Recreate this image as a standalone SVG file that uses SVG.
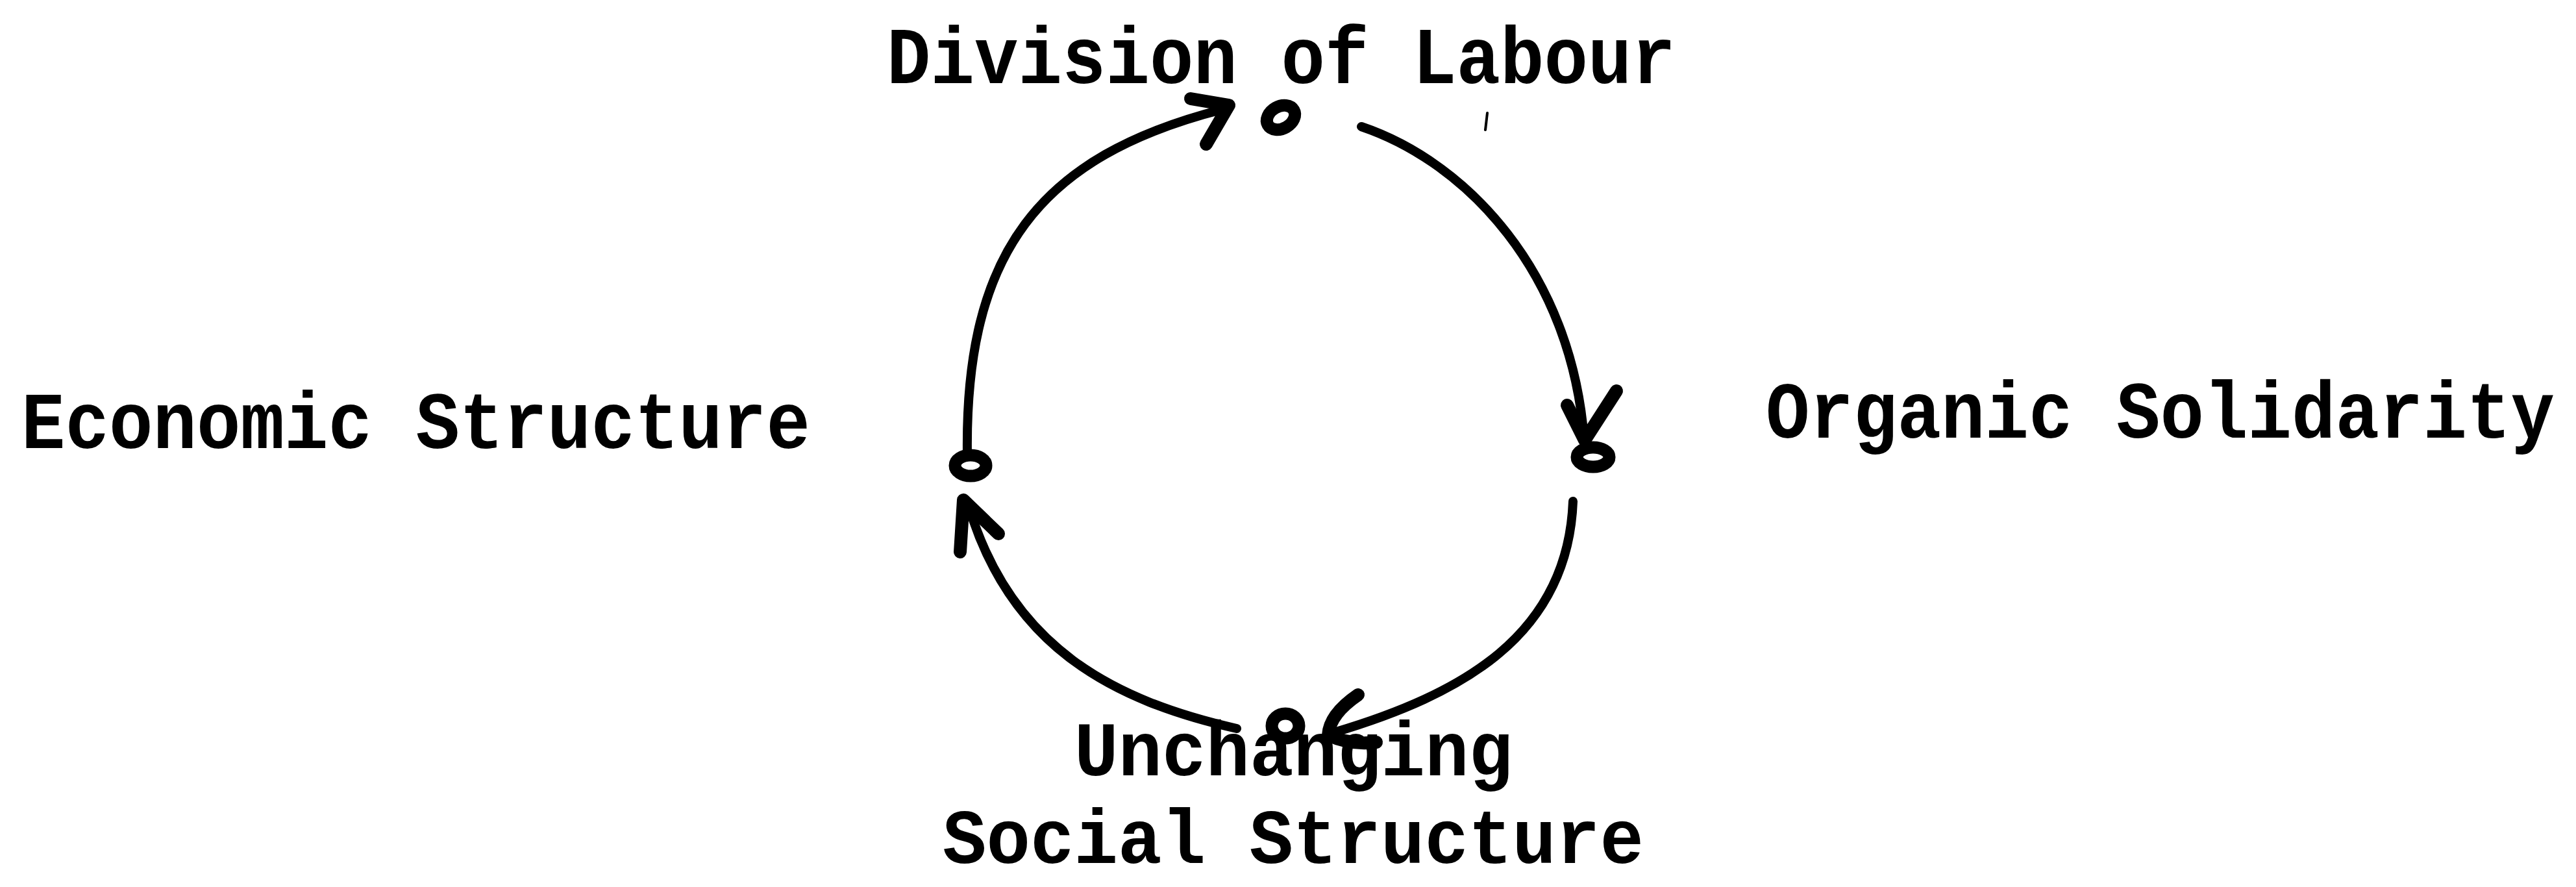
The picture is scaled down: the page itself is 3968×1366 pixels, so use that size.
<svg xmlns="http://www.w3.org/2000/svg" width="3968" height="1366" viewBox="0 0 3968 1366">
<style>
.lbl{font-family:"Liberation Mono","DejaVu Sans Mono",monospace;font-weight:bold;font-size:112.5px;fill:#000}
.arc{fill:none;stroke:#000;stroke-width:14;stroke-linecap:round;stroke-linejoin:round}
.head{fill:none;stroke:#000;stroke-width:20;stroke-linecap:round;stroke-linejoin:round}
.dot{fill:none;stroke:#000;stroke-width:19}
</style>
<rect width="3968" height="1366" fill="#fff"/>
<g id="division-of-labour">
<text class="lbl" transform="translate(1366 128) scale(1 1.1)">Division of Labour</text>
<ellipse class="dot" cx="1973" cy="181" rx="23" ry="17" transform="rotate(-30 1973 181)"/>
</g>
<g id="organic-solidarity">
<text class="lbl" transform="translate(2720 674) scale(1 1.1)">Organic Solidarity</text>
<ellipse class="dot" cx="2454" cy="704" rx="25" ry="15"/>
</g>
<g id="unchanging-social-structure">
<text class="lbl" transform="translate(1655 1194) scale(1 1.06)">Unchanging</text>
<text class="lbl" transform="translate(1452 1329) scale(1 1.06)">Social Structure</text>
<ellipse class="dot" cx="1980" cy="1118" rx="21" ry="19"/>
</g>
<g id="economic-structure">
<text class="lbl" transform="translate(33 690) scale(1 1.1)">Economic Structure</text>
<ellipse class="dot" cx="1495" cy="717" rx="24" ry="16"/>
</g>
<g id="connectors">
<path class="arc" d="M 1490 700 C 1486 390 1600 240 1885 168"/>
<path class="head" d="M 1834 152 L 1893 162 L 1858 222"/>
<path class="arc" d="M 2097 195 C 2260 250 2420 420 2440 675"/>
<path class="head" d="M 2414 624 L 2441 678 L 2490 602"/>
<path class="arc" d="M 2423 772 C 2415 980 2250 1070 2055 1128"/>
<path class="head" d="M 2092 1070 Q 2048 1100 2046 1132 Q 2080 1148 2120 1143"/>
<path class="arc" d="M 1905 1122 C 1720 1080 1555 1000 1490 772"/>
<path class="head" d="M 1479 850 L 1484 770 L 1538 822"/>
<path d="M 2291 174 L 2288 200" stroke="#000" stroke-width="4" stroke-linecap="round"/>
</g>
</svg>
